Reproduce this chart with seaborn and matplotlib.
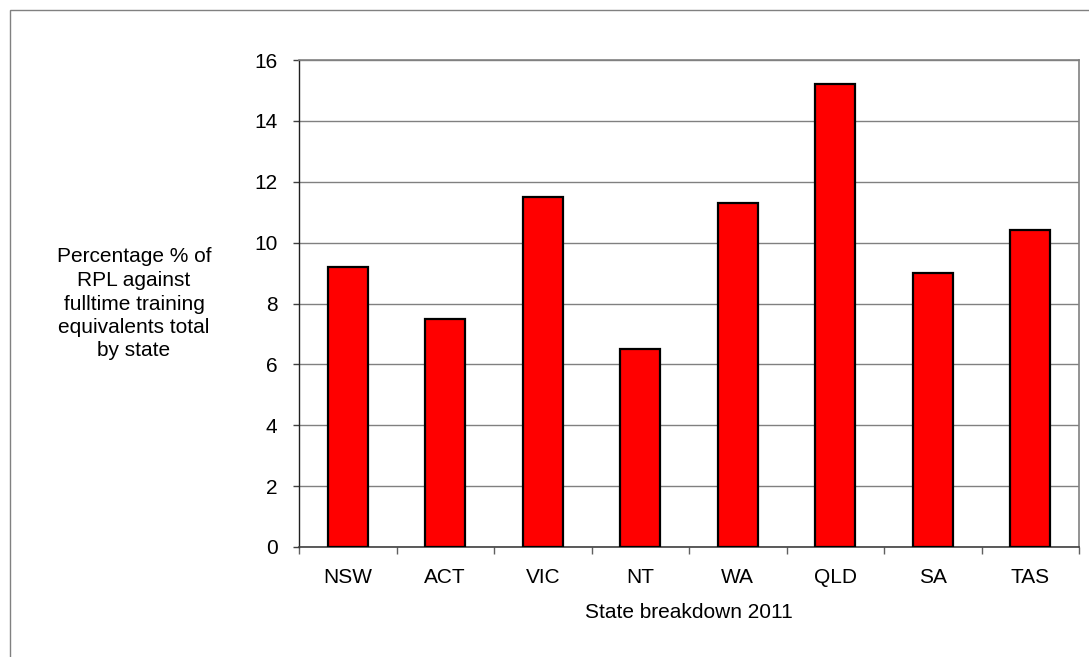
import matplotlib
matplotlib.use("Agg")
import matplotlib.pyplot as plt
import seaborn as sns
import pandas as pd
import numpy as np
from matplotlib.patches import Rectangle
from matplotlib.ticker import FixedLocator

states = ["NSW", "ACT", "VIC", "NT", "WA", "QLD", "SA", "TAS"]
values = [9.2, 7.5, 11.5, 6.5, 11.3, 15.2, 9.0, 10.4]
y_ticks = [0, 2, 4, 6, 8, 10, 12, 14, 16]

sns.set_style("white")
plt.rcParams['font.family'] = ['Liberation Sans', 'DejaVu Sans']
plt.rcParams['text.color'] = 'black'

df = pd.DataFrame({"state": states, "value": values})

fig = plt.figure(figsize=(10.89, 6.57), dpi=100)
ax = fig.add_axes([299/1089, 1-547/657, (1079-299)/1089, (547-60)/657])

sns.barplot(data=df, x="state", y="value", color="#FF0000", width=0.41,
            edgecolor="black", linewidth=1.6, saturation=1, ax=ax, zorder=3)

ax.set_ylim(0, 16)
ax.set_xlim(-0.5, len(states) - 0.5)
ax.set_yticks(y_ticks)
ax.yaxis.grid(True, color="#808080", linewidth=1, zorder=0)
ax.set_axisbelow(True)

for s in ["top", "right"]:
    ax.spines[s].set_color("#808080")
    ax.spines[s].set_linewidth(1.2)
ax.spines["left"].set_color("#202020")
ax.spines["bottom"].set_color("#404040")
ax.spines["left"].set_linewidth(1)
ax.spines["bottom"].set_linewidth(1.2)

ax.tick_params(axis="y", which="major", direction="out", length=4.5, width=1,
               color="#404040", labelsize=15, labelcolor="black", left=True, pad=11)
ax.tick_params(axis="x", which="major", length=0, labelsize=15,
               labelcolor="black", pad=15)
ax.xaxis.set_minor_locator(FixedLocator(np.arange(-0.5, len(states), 1.0)))
ax.tick_params(axis="x", which="minor", direction="out", length=5, width=1,
               color="#606060", bottom=True)

ax.set_xlabel("State breakdown 2011", fontsize=15, labelpad=12, color="black")
ax.set_ylabel("")
fig.text(134/1089, 1-304/657,
         "Percentage % of\nRPL against\nfulltime training\nequivalents total\nby state",
         ha="center", va="center", fontsize=15, linespacing=1.3, color="black")

fig.patches.append(Rectangle((10/1089, -0.1), 1.2, 1 - 10/657 + 0.1,
                             transform=fig.transFigure, fill=False,
                             edgecolor="#808080", linewidth=1))

fig.savefig("out.png", dpi=100)
